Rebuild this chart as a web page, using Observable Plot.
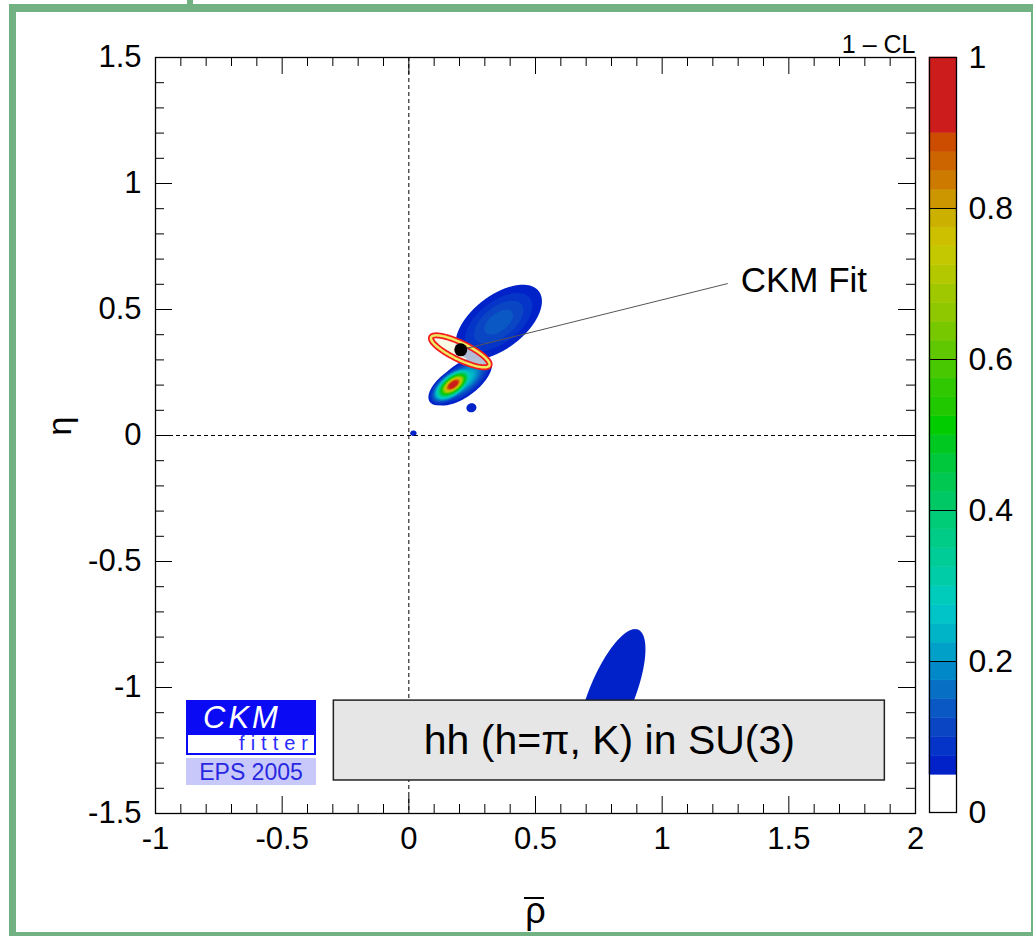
<!DOCTYPE html>
<html>
<head>
<meta charset="utf-8">
<script src="https://cdn.jsdelivr.net/npm/d3@7"></script>
<script src="https://cdn.jsdelivr.net/npm/@observablehq/plot@0.6"></script>
<style>
  body { margin: 0; background: #fff; }
  #wrap { position: relative; width: 1035px; height: 936px; overflow: hidden; font-family: "Liberation Sans", Arial, sans-serif; background: #fff; }
  #wrap svg { position: absolute; }
  #frameBox { position: absolute; left: 9px; top: 4px; width: 1024px; height: 934px; box-sizing: border-box;
    border-left: 7px solid #72b282; border-top: 8px solid #72b282; border-right: 2px solid #72b282; border-bottom: 6px solid #72b282; }
  #tab { position: absolute; left: 187px; top: 0; width: 6px; height: 5px; background: #72b282; }
  #rhoBar { position: absolute; left: 524px; top: 897px; width: 20px; height: 2px; background: #000; }
  #logo { position: absolute; left: 186px; top: 700px; width: 130px; }
  #logo .ckm { height: 35px; background: #0a0af5; color: #fff; font-style: italic; font-size: 31px; line-height: 35px; padding-left: 17px; letter-spacing: 3px; }
  #logo .fit { height: 20px; box-sizing: border-box; border-left: 2px solid #0a0af5; border-bottom: 2px solid #0a0af5; border-right: 2px solid #0a0af5; background: #fff; color: #2a2aff; font-size: 20px; line-height: 16px; text-align: right; letter-spacing: 6px; padding-right: 0px; }
  #logo .eps { margin-top: 3px; height: 27px; background: #c8c8fb; color: #2828e0; font-size: 23px; line-height: 28px; text-align: center; }
</style>
</head>
<body>
<div id="wrap"></div>
<script>
// ---------------- data ----------------
// 1 - CL colour levels (lower edges of each band) and band colours
const clThresholds = [0.05, 0.075, 0.1, 0.125, 0.15, 0.175, 0.2, 0.225, 0.25, 0.275, 0.3, 0.325, 0.35, 0.375,
  0.4, 0.425, 0.45, 0.475, 0.5, 0.525, 0.55, 0.575, 0.6, 0.625, 0.65, 0.675, 0.7, 0.725, 0.75, 0.775,
  0.8, 0.825, 0.85, 0.875, 0.9];
const clColors = ["#0022c8", "#0535c8", "#0a45c4", "#0a58c4", "#0870c4", "#0088c8", "#00a0c8", "#00b4c8",
  "#00c4c8", "#00ccbc", "#00cca8", "#00cc98", "#00cc88", "#00cc78", "#00c864", "#00c850", "#00c83c",
  "#00c820", "#00cc00", "#20c800", "#30c800", "#48c800", "#60c800", "#78c800", "#90c800", "#a0c800",
  "#b4c800", "#c4c800", "#ccc000", "#ccb000", "#cc9600", "#cc7a00", "#cc6400", "#cc4c00", "#cc1c1c"];

// CL regions: centre, half-extent at 1-CL = 0.05, tilt (deg), peak 1-CL
const blobName  = ["upper lobe", "lower lobe", "lower core", "small spot", "origin spot", "far solution"];
const blobX     = [0.355, 0.21, 0.175, 0.247, 0.018, 0.80];
const blobY     = [0.45, 0.218, 0.202, 0.110, 0.009, -1.03];
const blobA     = [0.20, 0.14, 0.115, 0.020, 0.013, 0.28];
const blobB     = [0.105, 0.065, 0.055, 0.018, 0.011, 0.09];
const blobAngle = [38, 37, 37, 20, 0, 68];
const blobPeak  = [0.14, 0.30, 1.0, 0.07, 0.06, 0.074];

// CKM global fit: contour ellipse and best-fit point
const fitCx = 0.203, fitCy = 0.334, fitA = 0.128, fitB = 0.033, fitAngle = -26;
const fitPoint = [{x: 0.205, y: 0.34}];
const fitLabel = [{x: 1.31, y: 0.615, text: "CKM Fit", lx: 1.259, ly: 0.603}];

// axes
const xMajor = [-1, -0.5, 0, 0.5, 1, 1.5, 2];
const yMajor = [-1.5, -1, -0.5, 0, 0.5, 1, 1.5];
const barTicks = [0, 0.2, 0.4, 0.6, 0.8, 1];
const titleBox = [{x1: -0.296, x2: 1.879, y1: -1.369, y2: -1.052, text: "hh (h=\u03c0, K) in SU(3)"}];

// ---------------- helpers ----------------
const xMinor = d3.range(-10, 21).map(i => i / 10).filter(v => !xMajor.includes(v));
const yMinor = d3.range(-15, 16).map(i => i / 10).filter(v => !yMajor.includes(v));

function clField(x, y) {
  let v = 0;
  for (let i = 0; i < blobX.length; i++) {
    const t = blobAngle[i] * Math.PI / 180;
    const dx = x - blobX[i], dy = y - blobY[i];
    const u = (dx * Math.cos(t) + dy * Math.sin(t)) / blobA[i];
    const w = (-dx * Math.sin(t) + dy * Math.cos(t)) / blobB[i];
    const val = blobPeak[i] * Math.pow(0.05 / blobPeak[i], u * u + w * w);
    if (val > v) v = val;
  }
  return v;
}
function fitField(x, y) {
  const t = fitAngle * Math.PI / 180;
  const dx = x - fitCx, dy = y - fitCy;
  const u = (dx * Math.cos(t) + dy * Math.sin(t)) / fitA;
  const w = (-dx * Math.sin(t) + dy * Math.cos(t)) / fitB;
  return 1 - (u * u + w * w);
}

const W = 760, H = 756;
const fitExtent = {x1: -0.05, x2: 0.45, y1: 0.15, y2: 0.52};

const main = Plot.plot({
  width: 1035, height: 936,
  marginLeft: 155, marginRight: 120, marginTop: 57, marginBottom: 123,
  x: {domain: [-1, 2]},
  y: {domain: [-1.5, 1.5]},
  color: {type: "threshold", domain: clThresholds, range: ["#ffffff", ...clColors]},
  style: {fontFamily: "'Liberation Sans', Arial, sans-serif", fontSize: "31px", background: "transparent", overflow: "visible", color: "black"},
  marks: [
    Plot.contour({fill: clField, x1: -1, x2: 2, y1: -1.5, y2: 1.5, thresholds: clThresholds, stroke: "none", pixelSize: 1}),
    Plot.ruleX([0], {stroke: "black", strokeWidth: 1, strokeDasharray: "4,3"}),
    Plot.ruleY([0], {stroke: "black", strokeWidth: 1, strokeDasharray: "4,3"}),
    Plot.contour({value: fitField, ...fitExtent, thresholds: [0], fill: "#f6f8dc", fillOpacity: 0.72, stroke: "none", pixelSize: 1}),
    Plot.contour({value: fitField, ...fitExtent, thresholds: [0], fill: "none", stroke: "#f21d1d", strokeWidth: 6, pixelSize: 1}),
    Plot.contour({value: fitField, ...fitExtent, thresholds: [0], fill: "none", stroke: "#eeea60", strokeWidth: 2.5, pixelSize: 1}),
    Plot.link(fitLabel, {x1: () => fitPoint[0].x, y1: () => fitPoint[0].y, x2: "lx", y2: "ly", stroke: "#555", strokeWidth: 1}),
    Plot.dot(fitPoint, {x: "x", y: "y", r: 6.5, fill: "black", stroke: "none"}),
    Plot.text(fitLabel, {x: "x", y: "y", text: "text", textAnchor: "start", fontSize: 35}),
    Plot.rect(titleBox, {x1: "x1", x2: "x2", y1: "y1", y2: "y2", fill: "#e6e6e6", stroke: "#222", strokeWidth: 1.5}),
    Plot.text(titleBox, {x: d => (d.x1 + d.x2) / 2, y: d => (d.y1 + d.y2) / 2, text: "text", fontSize: 41}),
    Plot.frame({stroke: "black", strokeWidth: 1.3}),
    Plot.tickX(xMajor, {x: d => d, insetTop: H - 17, stroke: "black"}),
    Plot.tickX(xMinor, {x: d => d, insetTop: H - 9, stroke: "black"}),
    Plot.tickX(xMajor, {x: d => d, insetBottom: H - 17, stroke: "black"}),
    Plot.tickX(xMinor, {x: d => d, insetBottom: H - 9, stroke: "black"}),
    Plot.tickY(yMajor, {y: d => d, insetRight: W - 17, stroke: "black"}),
    Plot.tickY(yMinor, {y: d => d, insetRight: W - 9, stroke: "black"}),
    Plot.tickY(yMajor, {y: d => d, insetLeft: W - 17, stroke: "black"}),
    Plot.tickY(yMinor, {y: d => d, insetLeft: W - 9, stroke: "black"}),
    Plot.axisX({ticks: xMajor, tickSize: 0, tickPadding: 13, tickFormat: d => String(d), label: null, fontSize: 31}),
    Plot.axisY({ticks: yMajor, tickSize: 0, tickPadding: 14, tickFormat: d => String(d), label: null, fontSize: 31}),
    Plot.text(["\u03b7"], {frameAnchor: "left", dx: -95, rotate: -90, fontSize: 34}),
    Plot.text(["\u03c1"], {frameAnchor: "bottom", dy: 109, fontSize: 36}),
    Plot.text(["1 \u2013 CL"], {frameAnchor: "top-right", textAnchor: "end", dy: -22, fontSize: 25})
  ]
});
main.style.left = "0px"; main.style.top = "0px";

const barLo = [0, ...clThresholds];
const barHi = [...clThresholds, 1];
const barCol = ["#ffffff", ...clColors];
const bands = barLo.map((lo, i) => ({lo, hi: barHi[i], c: barCol[i]}));

const bar = Plot.plot({
  width: 106, height: 936,
  marginLeft: 0, marginRight: 79, marginTop: 57, marginBottom: 124,
  x: {domain: [0, 1], axis: null},
  y: {domain: [0, 1]},
  color: {type: "identity"},
  style: {fontFamily: "'Liberation Sans', Arial, sans-serif", fontSize: "32px", background: "transparent", overflow: "visible", color: "black"},
  marks: [
    Plot.rect(bands, {y1: "lo", y2: "hi", fill: "c", stroke: "c", strokeWidth: 0.5}),
    Plot.ruleY([0.2, 0.4, 0.6, 0.8], {stroke: "black", strokeWidth: 1}),
    Plot.frame({stroke: "black", strokeWidth: 1.3}),
    Plot.axisY({anchor: "right", ticks: barTicks, tickSize: 0, tickPadding: 12, tickFormat: d => String(d), label: null, fontSize: 32})
  ]
});
bar.style.left = "929px"; bar.style.top = "0px";

const wrap = document.getElementById("wrap");
wrap.appendChild(main);
wrap.appendChild(bar);

const logo = document.createElement("div");
logo.id = "logo";
logo.innerHTML = '<div class="ckm">CKM</div><div class="fit">fitter</div><div class="eps">EPS 2005</div>';
wrap.appendChild(logo);

const rb = document.createElement("div"); rb.id = "rhoBar"; wrap.appendChild(rb);
const fb = document.createElement("div"); fb.id = "frameBox"; wrap.appendChild(fb);
const tab = document.createElement("div"); tab.id = "tab"; wrap.appendChild(tab);
</script>
</body>
</html>
